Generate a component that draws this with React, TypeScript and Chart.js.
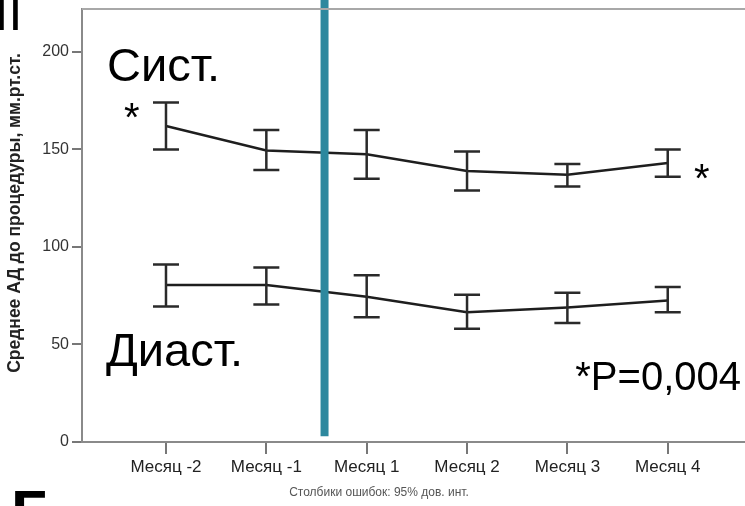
import React, { useEffect, useRef } from "react";
import { Chart, registerables } from "chart.js";

Chart.register(...registerables);

const categories = ["Месяц -2", "Месяц -1", "Месяц 1", "Месяц 2", "Месяц 3", "Месяц 4"];
const systMean = [162, 149.5, 147.5, 139, 137, 143];
const systLow = [150, 139.5, 135, 129, 131, 136];
const systHigh = [174, 160, 160, 149, 142.5, 150];
const diastMean = [80.5, 80.5, 74.5, 66.5, 69, 72.5];
const diastLow = [69.5, 70.5, 64, 58, 61, 66.5];
const diastHigh = [91, 89.5, 85.5, 75.5, 76.5, 79.5];
const yTicks = [0, 50, 100, 150, 200];
const markerX = 2.58;
const markerY = [3, 230];

const yTitle = "Среднее АД до процедуры, мм.рт.ст.";
const subTitle = "Столбики ошибок: 95% дов. инт.";
const labelSyst = "Сист.";
const labelDiast = "Диаст.";
const labelP = "*P=0,004";
const star = "*";
const fragTop = "II";
const fragBottom = "Г";

const FONT = "'Liberation Sans', Arial, sans-serif";

const errorBars = {
  id: "errorBars",
  afterDatasetsDraw(chart: any) {
    const { ctx, scales } = chart;
    const xs = scales.x;
    const ys = scales.y;
    ctx.save();
    ctx.strokeStyle = "#2a2a2a";
    ctx.lineWidth = 2.5;
    const cap = 13;
    const draw = (lo: number[], hi: number[]) => {
      lo.forEach((l, i) => {
        const px = xs.getPixelForValue(i + 1);
        const pl = ys.getPixelForValue(l);
        const ph = ys.getPixelForValue(hi[i]);
        ctx.beginPath();
        ctx.moveTo(px, pl);
        ctx.lineTo(px, ph);
        ctx.moveTo(px - cap, pl);
        ctx.lineTo(px + cap, pl);
        ctx.moveTo(px - cap, ph);
        ctx.lineTo(px + cap, ph);
        ctx.stroke();
      });
    };
    draw(systLow, systHigh);
    draw(diastLow, diastHigh);
    ctx.restore();
  },
  afterDraw(chart: any) {
    const { ctx, chartArea } = chart;
    ctx.save();
    // top frame line
    ctx.strokeStyle = "#a8a8a8";
    ctx.lineWidth = 2;
    ctx.beginPath();
    ctx.moveTo(chartArea.left, chartArea.top);
    ctx.lineTo(chartArea.right, chartArea.top);
    ctx.stroke();

    ctx.fillStyle = "#000";
    ctx.textBaseline = "alphabetic";
    ctx.textAlign = "left";
    ctx.font = `47px ${FONT}`;
    ctx.fillText(labelSyst, 107, 81);
    ctx.fillText(labelDiast, 106, 366);
    ctx.font = `40px ${FONT}`;
    ctx.textAlign = "right";
    ctx.fillText(labelP, 741, 390);
    ctx.textAlign = "left";
    ctx.fillText(star, 124, 131);
    ctx.fillText(star, 694, 192);

    // clipped slide text fragments
    ctx.font = `50px ${FONT}`;
    ctx.fillText(fragTop, -5.5, 30);
    ctx.font = `bold 62px ${FONT}`;
    ctx.fillText(fragBottom, 11, 533);

    // y axis title
    ctx.save();
    ctx.translate(15, 213);
    ctx.rotate(-Math.PI / 2);
    ctx.textAlign = "center";
    ctx.textBaseline = "middle";
    ctx.fillStyle = "#222";
    ctx.font = `bold 17.5px ${FONT}`;
    ctx.fillText(yTitle, 0, 0);
    ctx.restore();

    ctx.fillStyle = "#555";
    ctx.font = `12px ${FONT}`;
    ctx.textAlign = "center";
    ctx.fillText(subTitle, 379, 496);
    ctx.restore();
  },
};

export default function App() {
  const ref = useRef<HTMLCanvasElement>(null);
  useEffect(() => {
    if (!ref.current) return;
    const chart = new Chart(ref.current, {
      type: "line",
      data: {
        datasets: [
          {
            data: markerY.map((y) => ({ x: markerX, y })),
            borderColor: "#2d889e",
            borderWidth: 8,
            pointRadius: 0,
            clip: false as any,
            order: 0,
          },
          {
            data: systMean.map((y, i) => ({ x: i + 1, y })),
            borderColor: "#1e1e1e",
            borderWidth: 2.5,
            pointRadius: 0,
            tension: 0,
            order: 1,
          },
          {
            data: diastMean.map((y, i) => ({ x: i + 1, y })),
            borderColor: "#1e1e1e",
            borderWidth: 2.5,
            pointRadius: 0,
            tension: 0,
            order: 1,
          },
        ],
      },
      options: {
        animation: false,
        responsive: false,
        layout: { padding: { top: 9, right: 0, bottom: 0, left: 0 } },
        plugins: { legend: { display: false }, tooltip: { enabled: false } },
        scales: {
          x: {
            type: "linear",
            min: 0.163,
            max: 6.77,
            afterBuildTicks: (s: any) => {
              s.ticks = categories.map((_, i) => ({ value: i + 1 }));
            },
            afterFit: (s: any) => {
              s.height = 64;
              s.paddingLeft = 0;
              s.paddingRight = 0;
            },
            ticks: {
              callback: (v: any) => categories[Math.round(Number(v)) - 1] ?? "",
              color: "#222",
              font: { family: FONT, size: 17 },
              maxRotation: 0,
              autoSkip: false,
              padding: 3,
            },
            grid: { drawOnChartArea: false, drawTicks: true, tickLength: 12, color: "#777", lineWidth: 2 },
            border: { display: true, color: "#8a8a8a", width: 2 },
          },
          y: {
            min: 0,
            max: 222,
            afterBuildTicks: (s: any) => {
              s.ticks = yTicks.map((v) => ({ value: v }));
            },
            afterFit: (s: any) => {
              s.width = 82;
              s.paddingTop = 0;
              s.paddingBottom = 0;
            },
            ticks: {
              color: "#333",
              font: { family: FONT, size: 16 },
              padding: 3,
            },
            grid: { drawOnChartArea: false, drawTicks: true, tickLength: 10, color: "#777", lineWidth: 2 },
            border: { display: true, color: "#8a8a8a", width: 2 },
          },
        },
      },
      plugins: [errorBars],
    });
    return () => chart.destroy();
  }, []);
  return (
    <div style={{ position: "absolute", left: 0, top: 0, width: 745, height: 506, background: "#fff" }}>
      <canvas ref={ref} width={745} height={506} style={{ display: "block" }} />
    </div>
  );
}
